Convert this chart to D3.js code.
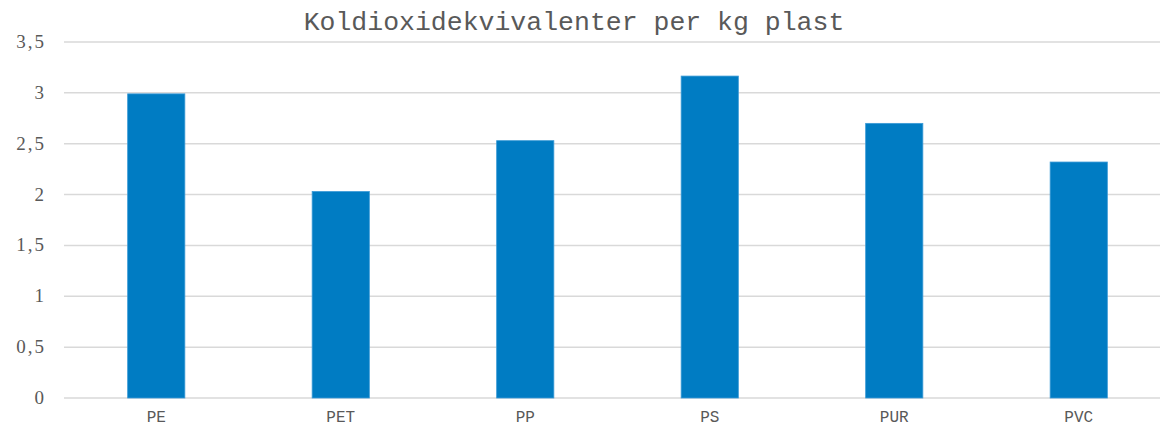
<!DOCTYPE html>
<html lang="no">
<head>
  <meta charset="UTF-8">
  <title>Koldioxidekvivalenter per kg plast</title>
  <style>
    body { margin: 0; background: #fff; }
    #chart { width: 1160px; height: 427px; }
    .ytick { font-family: 'Liberation Serif', 'DejaVu Serif', serif; }
    .mono { font-family: 'Liberation Mono', 'DejaVu Sans Mono', monospace; }
  </style>
</head>
<body>
  <div id="chart"></div>

  <script src="https://d3js.org/d3.v7.min.js"></script>
  <script>
    // data
    const categories = ['PE', 'PET', 'PP', 'PS', 'PUR', 'PVC'];
    const values = [2.99, 2.03, 2.53, 3.165, 2.70, 2.32];
    const yTicks = [0, 0.5, 1, 1.5, 2, 2.5, 3, 3.5];
    const title = 'Koldioxidekvivalenter per kg plast';

    const width = 1160;
    const height = 427;
    const plotLeft = 64, plotRight = 1171, plotTop = 42, plotBottom = 398;

    const svg = d3.select('#chart')
      .append('svg')
      .attr('width', width)
      .attr('height', height);

    const x = d3.scaleBand()
      .domain(categories)
      .range([plotLeft, plotRight])
      .paddingInner(0.69)
      .paddingOuter(0.345);

    const y = d3.scaleLinear()
      .domain([0, 3.5])
      .range([plotBottom, plotTop]);

    // gridlines
    svg.append('g')
      .selectAll('line')
      .data(yTicks)
      .join('line')
      .attr('x1', plotLeft)
      .attr('x2', plotRight)
      .attr('y1', d => y(d))
      .attr('y2', d => y(d))
      .attr('stroke', '#d9d9d9')
      .attr('stroke-width', 1.5);

    // y labels
    svg.append('g')
      .selectAll('text')
      .data(yTicks)
      .join('text')
      .attr('class', 'ytick')
      .attr('x', 46)
      .attr('y', d => y(d) + 6)
      .attr('text-anchor', 'end')
      .attr('font-size', 19)
      .attr('letter-spacing', 2)
      .attr('fill', '#595959')
      .text(d => String(d).replace('.', ','));

    // bars
    svg.append('g')
      .selectAll('rect')
      .data(values)
      .join('rect')
      .attr('x', (d, i) => x(categories[i]))
      .attr('y', d => y(d))
      .attr('width', x.bandwidth())
      .attr('height', d => plotBottom - y(d))
      .attr('fill', '#007cc3')
      .attr('stroke', '#3b9ad6')
      .attr('stroke-width', 0.8);

    // x labels
    svg.append('g')
      .selectAll('text')
      .data(categories)
      .join('text')
      .attr('class', 'mono')
      .attr('x', d => x(d) + x.bandwidth() / 2)
      .attr('y', 422)
      .attr('text-anchor', 'middle')
      .attr('font-size', 16)
      .attr('fill', '#595959')
      .text(d => d);

    // title
    svg.append('text')
      .attr('class', 'mono')
      .attr('x', 574)
      .attr('y', 30)
      .attr('text-anchor', 'middle')
      .attr('font-size', 26.5)
      .attr('fill', '#595959')
      .text(title);
  </script>
</body>
</html>
